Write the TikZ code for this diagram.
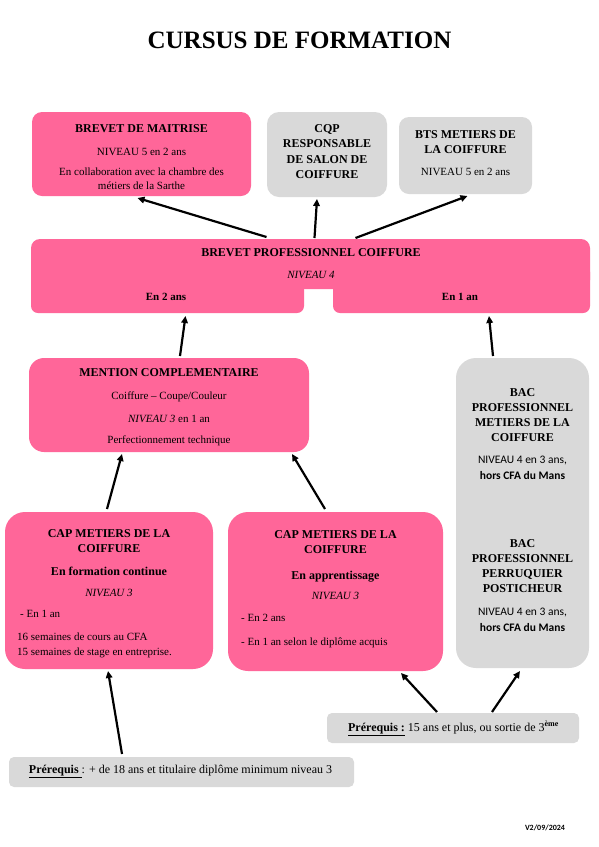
\documentclass[tikz,border=0pt]{standalone}
\usepackage{fontspec}
\setmainfont{Liberation Serif}
\newfontfamily\sansf{Carlito}
\usetikzlibrary{arrows.meta,calc}
\definecolor{pinkc}{HTML}{FF6699}
\definecolor{grayc}{HTML}{D9D9D9}
\begin{document}
\begin{tikzpicture}[x=1pt,y=-1pt,
  box/.style={inner sep=0pt, outer sep=0pt, anchor=north west, draw=none},
  pinkbox/.style={box, fill=pinkc},
  graybox/.style={box, fill=grayc},
  tb/.style={inner sep=0pt, font=\bfseries\fontsize{12}{14}\selectfont, text height=8pt, text depth=0pt},
  tn/.style={inner sep=0pt, font=\fontsize{11}{13}\selectfont, text height=7.3pt, text depth=0pt},
  ti/.style={tn, font=\itshape\fontsize{11}{13}\selectfont},
  ts/.style={inner sep=0pt, font=\sansf\fontsize{11.5}{13}\selectfont, text height=7.6pt, text depth=0pt},
  tsb/.style={ts, font=\sansf\bfseries\fontsize{11.5}{13}\selectfont},
  tp/.style={inner sep=0pt, font=\fontsize{12}{14}\selectfont, text height=8pt, text depth=0pt},
  arr/.style={line width=2.2pt, -{Triangle[length=7pt,width=6.5pt]}}
]
\useasboundingbox (0,0) rectangle (598,847);
\fill[white] (0,0) rectangle (598,847);

% title
\node[inner sep=0pt, font=\bfseries\fontsize{25}{30}\selectfont, text height=16.5pt, text depth=0pt] (title) at (299.5,40) {CURSUS DE FORMATION};

% boxes
\node[pinkbox, minimum width=219pt, minimum height=84pt, rounded corners=10pt] (bm) at (32,112) {};
\node[graybox, minimum width=120pt, minimum height=85pt, rounded corners=12pt] (cqp) at (267,112) {};
\node[graybox, minimum width=133pt, minimum height=77pt, rounded corners=10pt] (bts) at (399,117) {};
\node[pinkbox, minimum width=559pt, minimum height=50pt, rounded corners=9pt] (bp) at (31,239) {};
\node[pinkbox, minimum width=273pt, minimum height=48pt, rounded corners=7pt] (bpl) at (31,265) {};
\node[pinkbox, minimum width=257pt, minimum height=48pt, rounded corners=7pt] (bpr) at (333,265) {};
\node[pinkbox, minimum width=280pt, minimum height=94pt, rounded corners=15pt] (mc) at (29,358) {};
\node[pinkbox, minimum width=208pt, minimum height=157pt, rounded corners=20pt] (capc) at (5,512) {};
\node[pinkbox, minimum width=215pt, minimum height=159pt, rounded corners=20pt] (capa) at (228,512) {};
\node[graybox, minimum width=133pt, minimum height=310pt, rounded corners=20pt] (bac) at (456,358) {};
\node[graybox, minimum width=252pt, minimum height=30pt, rounded corners=5pt] (pr1) at (327,713) {};
\node[graybox, minimum width=345pt, minimum height=30pt, rounded corners=5pt] (pr2) at (9,757) {};

% texts: brevet de maitrise
\node[tb] (bm1) at (141.5,128) {BREVET DE MAITRISE};
\node[tn] (bm2) at (141.5,152) {NIVEAU 5 en 2 ans};
\node[tn] (bm3) at (141.5,172) {En collaboration avec la chambre des};
\node[tn] (bm4) at (141.5,186) {métiers de la Sarthe};
% CQP
\node[tb] (cq1) at (327,128) {CQP};
\node[tb] (cq2) at (327,143.5) {RESPONSABLE};
\node[tb] (cq3) at (327,159) {DE SALON DE};
\node[tb] (cq4) at (327,174.5) {COIFFURE};
% BTS
\node[tb] (bt1) at (465.5,134) {BTS METIERS DE};
\node[tb] (bt2) at (465.5,149) {LA COIFFURE};
\node[tn] (bt3) at (465.5,172) {NIVEAU 5 en 2 ans};
% BP
\node[tb] (bp1) at (311,252) {BREVET PROFESSIONNEL COIFFURE};
\node[ti] (bp2) at (311,275) {NIVEAU 4};
\node[tb, font=\bfseries\fontsize{11}{13}\selectfont, text height=7.3pt] (bp3) at (166,297) {En 2 ans};
\node[tb, font=\bfseries\fontsize{11}{13}\selectfont, text height=7.3pt] (bp4) at (460,297) {En 1 an};
% MC
\node[tb] (mc1) at (169,372) {MENTION COMPLEMENTAIRE};
\node[tn] (mc2) at (169,396) {Coiffure – Coupe/Couleur};
\node[tn] (mc3) at (169,419) {\textit{NIVEAU 3} en 1 an};
\node[tn] (mc4) at (169,440) {Perfectionnement technique};
% CAP continue
\node[tb] (cc1) at (109,533) {CAP METIERS DE LA};
\node[tb] (cc2) at (109,548.5) {COIFFURE};
\node[tb] (cc3) at (109,571) {En formation continue};
\node[ti] (cc4) at (109,593) {NIVEAU 3};
\node[tn, anchor=west] (cc5) at (20,614) {- En 1 an};
\node[tn, anchor=west] (cc6) at (17,637) {16 semaines de cours au CFA};
\node[tn, anchor=west] (cc7) at (17,652) {15 semaines de stage en entreprise.};
% CAP apprentissage
\node[tb] (ca1) at (335.5,534) {CAP METIERS DE LA};
\node[tb] (ca2) at (335.5,549.5) {COIFFURE};
\node[tb] (ca3) at (335.5,575) {En apprentissage};
\node[ti] (ca4) at (335.5,596) {NIVEAU 3};
\node[tn, anchor=west] (ca5) at (241,618) {- En 2 ans};
\node[tn, anchor=west] (ca6) at (241,642) {- En 1 an selon le diplôme acquis};
% BAC
\node[tb] (ba1) at (522.5,392) {BAC};
\node[tb] (ba2) at (522.5,407) {PROFESSIONNEL};
\node[tb] (ba3) at (522.5,422) {METIERS DE LA};
\node[tb] (ba4) at (522.5,437.5) {COIFFURE};
\node[ts] (ba5) at (522.5,460) {NIVEAU 4 en 3 ans,};
\node[tsb] (ba6) at (522.5,475.5) {hors CFA du Mans};
\node[tb] (bb1) at (522.5,543) {BAC};
\node[tb] (bb2) at (522.5,558) {PROFESSIONNEL};
\node[tb] (bb3) at (522.5,573) {PERRUQUIER};
\node[tb] (bb4) at (522.5,588.5) {POSTICHEUR};
\node[ts] (bb5) at (522.5,612) {NIVEAU 4 en 3 ans,};
\node[tsb] (bb6) at (522.5,628) {hors CFA du Mans};
% prerequis
\node[tp] (p1) at (453.5,727) {\underline{\textbf{Prérequis :}} 15 ans et plus, ou sortie de 3\textsuperscript{\bfseries ème}};
\node[tp] (p2) at (180.5,769) {\underline{\textbf{Prérequis}\ }: + de 18 ans et titulaire diplôme minimum niveau 3};
% version
\node[inner sep=0pt, font=\sansf\bfseries\fontsize{8}{9}\selectfont] (ver) at (545,828) {V2/09/2024};

% arrows
\draw[arr] ($(bp.north)+(-44,-2)$) -- ($(bm.south)+(-4,2)$);
\draw[arr] ($(bp.north)+(4,-1)$) -- ($(cqp.south)+(-10,2)$);
\draw[arr] ($(bp.north)+(45,-1)$) -- ($(bts.south)+(2,2)$);
\draw[arr] ($(mc.north)+(11,-2)$) -- ($(bpl.south)+(18,3)$);
\draw[arr] ($(bac.north)+(-29.5,-2)$) -- ($(bpr.south)+(27.5,3)$);
\draw[arr] ($(capc.north)+(-2,-3)$) -- ($(mc.south)+(-47,2)$);
\draw[arr] ($(capa.north)+(-10.5,-3)$) -- ($(mc.south)+(123,2)$);
\draw[arr] ($(pr2.north)+(-59.5,-3)$) -- ($(capc.south)+(-1,2)$);
\draw[arr] ($(pr1.north)+(-16,-1)$) -- ($(capa.south)+(65.5,2)$);
\draw[arr] ($(pr1.north)+(39,-1)$) -- ($(bac.south)+(-2.5,3)$);
\end{tikzpicture}
\end{document}
